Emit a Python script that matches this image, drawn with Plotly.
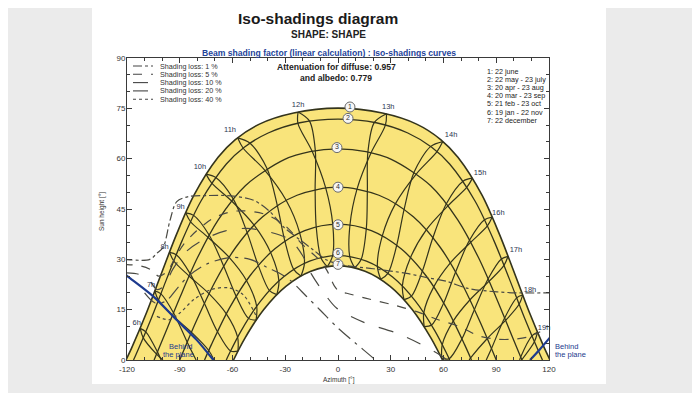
import plotly.graph_objects as go

# ---------------- data ----------------
AZ_TICKS = [-120, -90, -60, -30, 0, 30, 60, 90, 120]
ALT_TICKS = [0, 15, 30, 45, 60, 75, 90]

# sun paths (azimuth, sun height) for the 7 dates
JUN_AZ = [-120.6, -117.4, -108.75, -100.5, -91.9, -81.9, -68.2, -58.4, -44.7, -25.2, 0, 25.2, 44.7, 58.4, 68.2, 81.9, 91.9, 100.5, 108.75, 117.4, 120.6]
JUN_ALT = [0, 3.55, 14.3, 25.7, 37.35, 49.1, 60.4, 65.7, 70.3, 73.6, 75.05, 73.6, 70.3, 65.7, 60.4, 49.1, 37.35, 25.7, 14.3, 3.55, 0]
MAY_AZ = [-116.3, -115.0, -106.15, -97.6, -88.6, -78.0, -63.5, -53.3, -39.7, -21.7, 0, 21.7, 39.7, 53.3, 63.5, 78.0, 88.6, 97.6, 106.15, 115.0, 116.3]
MAY_ALT = [0, 1.48, 12.47, 23.95, 35.65, 47.3, 58.4, 63.4, 67.65, 70.7, 71.8, 70.7, 67.65, 63.4, 58.4, 47.3, 35.65, 23.95, 12.47, 1.48, 0]
APR_AZ = [-104.6, -99.0, -89.8, -79.95, -68.2, -52.7, -30.3, -15.9, 0, 15.9, 30.3, 52.7, 68.2, 79.95, 89.8, 99.0, 104.6]
APR_ALT = [0, 7.07, 18.77, 30.45, 41.7, 51.95, 59.8, 62.1, 62.9, 62.1, 59.8, 51.95, 41.7, 30.45, 18.77, 7.07, 0]
MAR_AZ = [-90, -80.5, -70.2, -58.1, -42.85, -23.3, 0, 23.3, 42.85, 58.1, 70.2, 80.5, 90]
MAR_ALT = [0, 11.69, 23.04, 33.6, 42.67, 49.1, 51.5, 49.1, 42.67, 33.6, 23.04, 11.69, 0]
FEB_AZ = [-75.9, -72.0, -61.85, -50.05, -35.9, -18.96, 0, 18.96, 35.9, 50.05, 61.85, 72.0, 75.9]
FEB_ALT = [0, 4.59, 15.38, 25.11, 33.13, 38.55, 40.5, 38.55, 33.13, 25.11, 15.38, 4.59, 0]
JAN_AZ = [-63.55, -61.8, -55.18, -44.04, -31.06, -16.17, 0, 16.17, 31.06, 44.04, 55.18, 61.8, 63.55]
JAN_ALT = [0, 1.94, 8.62, 17.56, 24.72, 29.44, 31.1, 29.44, 24.72, 17.56, 8.62, 1.94, 0]
DEC_AZ = [-59.43, -53.07, -42.2, -29.65, -15.38, 0, 15.38, 29.65, 42.2, 53.07, 59.43]
DEC_ALT = [0, 6.39, 15.07, 21.97, 26.47, 28.05, 26.47, 21.97, 15.07, 6.39, 0]

DATE_NUMS = ["1", "2", "3", "4", "5", "6", "7"]
DATE_NUM_AZ = [6.8, 5.7, -0.6, 0, 0, 0, 0]
DATE_NUM_ALT = [75.4, 72.0, 63.3, 51.5, 40.3, 31.8, 28.5]
DATE_LEGEND = ["1: 22 june", "2: 22 may - 23 july", "3: 20 apr - 23 aug", "4: 20 mar - 23 sep",
               "5: 21 feb - 23 oct", "6: 19 jan - 22 nov", "7: 22 december"]

# hour lines: two branches (first / second half of the year), points (azimuth, height)
H06A = [(-112.5, 9.43), (-109.3, 8.37), (-102.7, 2.42), (-100.6, 0)]
H06B = [(-112.5, 9.43), (-110.75, 6.6), (-103.2, 1.74), (-99.6, 0)]
H07A = [(-104.2, 20.6), (-100.7, 19.7), (-93.5, 14.0), (-85.75, 5.3), (-80.7, 0)]
H07B = [(-104.2, 20.6), (-102.1, 17.85), (-94.1, 13.3), (-83.4, 8.3), (-73.5, 2.83), (-70.5, 0)]
H08A = [(-95.8, 32.1), (-91.97, 31.35), (-84.1, 25.75), (-76.0, 16.9), (-68.6, 8.5), (-61.1, 2.7), (-56.9, 2.64)]
H08B = [(-95.8, 32.1), (-93.4, 29.5), (-84.7, 25.05), (-73.4, 19.77), (-63.5, 13.75), (-57.1, 6.8), (-56.9, 2.64)]
H09A = [(-86.6, 43.85), (-82.1, 43.1), (-73.3, 37.25), (-65.0, 27.95), (-57.9, 18.97), (-50.85, 12.4), (-46.6, 11.9)]
H09B = [(-86.6, 43.85), (-83.85, 41.2), (-74.0, 36.6), (-61.9, 30.6), (-52.05, 23.7), (-46.25, 16.0), (-46.6, 11.9)]
H10A = [(-75.05, 55.4), (-69.5, 54.4), (-59.6, 48.0), (-51.65, 37.95), (-45.35, 28.2), (-39.0, 20.7), (-34.8, 19.5)]
H10B = [(-75.05, 55.4), (-71.8, 52.7), (-60.5, 47.4), (-47.7, 40.2), (-38.3, 32.0), (-33.6, 23.55), (-34.8, 19.5)]
H11A = [(-57.1, 66.2), (-50.0, 64.6), (-40.3, 57.0), (-34.5, 46.0), (-30.2, 35.4), (-25.2, 27.0), (-21.1, 25.0)]
H11B = [(-57.1, 66.2), (-53.9, 63.1), (-41.7, 56.6), (-29.5, 47.6), (-21.8, 37.9), (-19.1, 28.8), (-21.1, 25.0)]
H12A = [(-22.7, 73.9), (-16.2, 71.2), (-12.9, 62.4), (-13.0, 50.8), (-12.4, 39.7), (-9.7, 30.5), (-6.1, 27.8)]
H12B = [(-22.7, 73.9), (-22.8, 70.55), (-14.7, 62.2), (-7.0, 51.3), (-3.0, 40.45), (-3.1, 31.05), (-6.1, 27.8)]
H13A = [(27.6, 73.4), (26.95, 70.0), (18.8, 61.75), (10.85, 51.0), (6.8, 40.25), (6.7, 30.8), (9.5, 27.45)]
H13B = [(27.6, 73.4), (20.6, 70.75), (17.0, 61.97), (16.7, 50.3), (16.1, 39.1), (13.2, 30.0), (9.5, 27.45)]
H14A = [(59.6, 65.1), (56.3, 62.1), (44.6, 55.5), (32.7, 46.6), (25.2, 37.0), (22.4, 27.9), (24.3, 24.05)]
H14B = [(59.6, 65.1), (52.6, 63.6), (43.3, 56.0), (37.6, 44.9), (33.4, 34.2), (28.4, 25.8), (24.3, 24.05)]
H15A = [(76.5, 54.2), (73.3, 51.5), (62.6, 46.0), (50.2, 38.8), (41.2, 30.5), (36.6, 22.1), (37.5, 18.0)]
H15B = [(76.5, 54.2), (71.1, 53.3), (61.7, 46.65), (54.0, 36.5), (48.0, 26.5), (41.8, 19.05), (37.5, 18.0)]
H16A = [(87.7, 42.6), (84.95, 39.95), (75.5, 35.1), (63.9, 28.95), (54.45, 21.8), (48.8, 14.1), (49.0, 9.95)]
H16B = [(87.7, 42.6), (83.3, 41.8), (74.85, 35.75), (66.9, 26.25), (60.1, 17.0), (53.2, 10.4), (49.0, 9.95)]
H17A = [(96.7, 30.9), (94.4, 28.2), (86.0, 23.5), (75.1, 17.96), (65.6, 11.67), (59.3, 4.6), (59.0, 0.45)]
H17B = [(96.7, 30.9), (92.9, 30.1), (85.4, 24.2), (77.6, 15.07), (70.5, 6.33), (63.2, 0.4), (59.0, 0.45)]
H18A = [(105.0, 19.36), (103.0, 16.6), (95.3, 11.8), (84.9, 6.4), (75.4, 0.6), (74.6, 0)]
H18B = [(105.0, 19.36), (101.6, 18.5), (94.75, 12.5), (87.3, 3.44), (84.3, 0)]
H19A = [(113.5, 8.28), (111.7, 5.44), (104.4, 0)]
H19B = [(113.5, 8.28), (110.3, 7.2), (103.9, 0.9), (103.3, 0)]

HOUR_NAMES = ["6h", "7h", "8h", "9h", "10h", "11h", "12h", "13h", "14h", "15h", "16h", "17h", "18h", "19h"]
HOUR_LABEL_AZ = [-114.5, -106.3, -98.6, -89.5, -78.5, -61.4, -22.7, 28.6, 64.3, 80.8, 91.2, 101.2, 109.2, 117.2]
HOUR_LABEL_ALT = [10.9, 22.4, 33.6, 45.7, 57.5, 68.5, 76.0, 75.5, 67.0, 55.7, 43.7, 32.6, 20.9, 9.4]

# iso-shading curves
ISO_NAMES = ["Shading loss: 1 %", "Shading loss: 5 %", "Shading loss: 10 %", "Shading loss: 20 %", "Shading loss: 40 %"]
ISO1 = [(-122, 30), (-107, 30), (-103, 31.8), (-99.4, 33.6), (-95.5, 41.7), (-91.7, 47.2), (-85, 48.7), (-75, 49),
        (-61, 48.9), (-48, 47.6), (-38.7, 44.2), (-31.1, 39.7), (-21.6, 35.8), (-14, 32.8), (-6.4, 29.8), (3, 28.3),
        (20, 27.2), (39, 25.8), (52, 24.4), (62, 23.4), (73.4, 21.4), (90.4, 20.3), (103.5, 20), (122, 20)]
ISO5 = [(-122, 28.5), (-112, 28), (-106, 26.8), (-102, 25), (-97, 26.5), (-92.7, 30.4), (-88, 34.3), (-80.4, 38.5),
        (-70, 42.5), (-57.6, 44.4), (-42, 43.5), (-30, 40), (-20, 34.3), (-11, 30), (-6.4, 26.8), (-2, 22), (1, 20.3),
        (5, 19.9), (15, 18.5), (31.5, 16.4), (44.8, 14.4), (57, 12), (69.4, 9.9), (80, 7.2), (90.4, 6.2), (100, 6.2),
        (107.5, 6.8), (115, 8.4)]
ISO10 = [(-122, 26), (-113, 25.5), (-107, 23.5), (-103, 21), (-99, 22), (-94, 27), (-87, 32), (-76.6, 35.8),
         (-64, 38.5), (-51.9, 39.2), (-38, 38), (-27.3, 35.8), (-20, 31), (-15.9, 26.3), (-8, 20), (-0.7, 15.4),
         (8, 12.8), (16.3, 10.9), (33.4, 8.0), (46, 5), (58, 1.5), (62, 0)]
ISO20 = [(-110, 20), (-104, 17), (-98, 17.5), (-92, 21), (-85, 25), (-75, 28.5), (-62, 30.5), (-50, 30), (-40, 27.5),
         (-33, 25.8), (-27.3, 23.8), (-18, 19), (-10.2, 14.9), (0, 9.5), (10, 5), (20.1, 0.5), (21, 0)]
ISO40 = [(-103, 13), (-96, 12), (-90, 14), (-82, 18), (-72, 21), (-62, 21.5), (-54, 19.5), (-46, 12.5)]

# "behind the plane" limits
BEHIND_LEFT = [(-121, 25.5), (-119.3, 24.8), (-104.9, 18.9), (-91.7, 11.9), (-80.4, 6), (-70.9, 0)]
BEHIND_RIGHT = [(109.2, 0), (114.5, 3), (121, 7)]

# ---------------- figure ----------------
OFF = 8                      # page body margin of the html page
W, H = 700 - OFF, 393 - OFF
L, R, T, B = 127, 549, 58, 360  # plot area in page pixels


def px(x):
    return (x - L) / (R - L)


def py(y):
    return (B - y) / (B - T)


FONT = "Liberation Sans, Arial, sans-serif"
LINE = "#34341c"
ISO_COL = "#4a4a44"
BLUE = "#1d3a8e"

fig = go.Figure()


def add_curve(x, y, color, width, dash="solid", fill=None, fillcolor=None, shape="spline"):
    fig.add_trace(go.Scatter(x=x, y=y, mode="lines", line=dict(color=color, width=width, dash=dash, shape=shape,
                                                               smoothing=0.9),
                             fill=fill, fillcolor=fillcolor, hoverinfo="skip", showlegend=False))


def add_pts(pts, color, width, dash="solid"):
    add_curve([p[0] for p in pts], [p[1] for p in pts], color, width, dash)


# yellow zone: between June and December paths
add_curve(JUN_AZ, JUN_ALT, LINE, 1.6, fill="tozeroy", fillcolor="#f9e47b")
add_curve(DEC_AZ, DEC_ALT, LINE, 1.6, fill="tozeroy", fillcolor="#ffffff")

for az, alt in [(MAY_AZ, MAY_ALT), (APR_AZ, APR_ALT), (MAR_AZ, MAR_ALT), (FEB_AZ, FEB_ALT), (JAN_AZ, JAN_ALT)]:
    add_curve(az, alt, LINE, 1.3)

for pts in [H06A, H06B, H07A, H07B, H08A, H08B, H09A, H09B, H10A, H10B, H11A, H11B, H12A, H12B,
            H13A, H13B, H14A, H14B, H15A, H15B, H16A, H16B, H17A, H17B, H18A, H18B, H19A, H19B]:
    add_pts(pts, LINE, 1.2)

# iso-shading curves
ISO_DASH = ["dashdot", "dash", "longdash", "longdashdot", "dot"]
for pts, dash in zip([ISO1, ISO5, ISO10, ISO20, ISO40], ISO_DASH):
    add_pts(pts, ISO_COL, 1.2, dash)

# behind the plane
add_pts(BEHIND_LEFT, BLUE, 2.2)
add_pts(BEHIND_RIGHT, BLUE, 2.2)

# date numbers in circles
fig.add_trace(go.Scatter(x=DATE_NUM_AZ, y=DATE_NUM_ALT, mode="markers+text", text=DATE_NUMS,
                         textposition="middle center", textfont=dict(size=7, color="#333", family=FONT),
                         marker=dict(symbol="circle", size=10, color="#f6f6f6", line=dict(color="#6a6a6a", width=1)),
                         hoverinfo="skip", showlegend=False, cliponaxis=False))

# hour labels
fig.add_trace(go.Scatter(x=HOUR_LABEL_AZ, y=HOUR_LABEL_ALT, mode="text", text=HOUR_NAMES,
                         textposition="middle center", textfont=dict(size=7.5, color="#2b3550", family=FONT),
                         hoverinfo="skip", showlegend=False, cliponaxis=False))

ann = []
shapes = []

# white panel on grey background
shapes.append(dict(type="rect", xref="paper", yref="paper", x0=px(92), x1=px(606), y0=py(384), y1=py(-10),
                   fillcolor="white", line=dict(width=0), layer="below"))


def text(x, y, s, size, color="#222", bold=False, xanchor="center", angle=0):
    ann.append(dict(x=px(x), y=py(y), xref="paper", yref="paper", text=("<b>%s</b>" % s) if bold else s,
                    showarrow=False, xanchor=xanchor, yanchor="middle", textangle=angle,
                    font=dict(size=size, color=color, family=FONT)))


text(318, 18, "Iso-shadings diagram", 15.5, "#1a1a1a", True)
text(328, 35, "SHAPE: SHAPE", 10, "#222", True)
text(329, 53, "Beam shading factor (linear calculation) : Iso-shadings curves", 8.6, "#24449a", True)
text(336, 67, "Attenuation for diffuse: 0.957", 8.6, "#222", True)
text(336, 78, "and albedo: 0.779", 8.6, "#222", True)

for i, s in enumerate(DATE_LEGEND):
    text(485, 71 + 8.2 * i, s, 7.2, "#222", xanchor="left")

ISO_ROWS = [66, 74.3, 82.6, 90.9, 99.2]
for name, dash, yy in zip(ISO_NAMES, ISO_DASH, ISO_ROWS):
    shapes.append(dict(type="line", xref="paper", yref="paper", x0=px(133), x1=px(153), y0=py(yy), y1=py(yy),
                       line=dict(color="#444", width=1.1, dash=dash)))
    text(158, yy, name, 7.2, "#333", xanchor="left")

text(180, 346, "Behind", 7.5, BLUE)
text(178, 354, "the plane", 7.5, BLUE)
text(566, 346, "Behind", 7.5, BLUE)
text(570, 354, "the plane", 7.5, BLUE)

text(339, 380, "Azimuth [°]", 6.5, "#333")
text(102, 212, "Sun height [°]", 6.5, "#333", angle=-90)

axis_common = dict(showgrid=False, zeroline=False, showline=True, linecolor="#3a3a3a", linewidth=1,
                   mirror="allticks", ticks="inside", ticklen=5, tickcolor="#3a3a3a", automargin=False,
                   tickfont=dict(size=8, color="#333", family=FONT))

fig.update_layout(
    width=W, height=H, autosize=False,
    margin=dict(l=L - OFF, r=W - (R - OFF), t=T - OFF, b=H - (B - OFF), pad=0),
    paper_bgcolor="#ebebeb", plot_bgcolor="white",
    xaxis=dict(range=[-120, 120], tickvals=AZ_TICKS, ticktext=[str(v) for v in AZ_TICKS],
               ticklabelstandoff=1,
               minor=dict(dtick=10, ticks="inside", ticklen=3, tickcolor="#3a3a3a", showgrid=False),
               **axis_common),
    yaxis=dict(range=[0, 90], tickvals=ALT_TICKS, ticktext=[str(v) for v in ALT_TICKS],
               ticklabelstandoff=-1,
               minor=dict(dtick=5, ticks="inside", ticklen=3, tickcolor="#3a3a3a", showgrid=False),
               **axis_common),
    annotations=ann, shapes=shapes,
    font=dict(family=FONT),
)

fig.write_html("out.html")
